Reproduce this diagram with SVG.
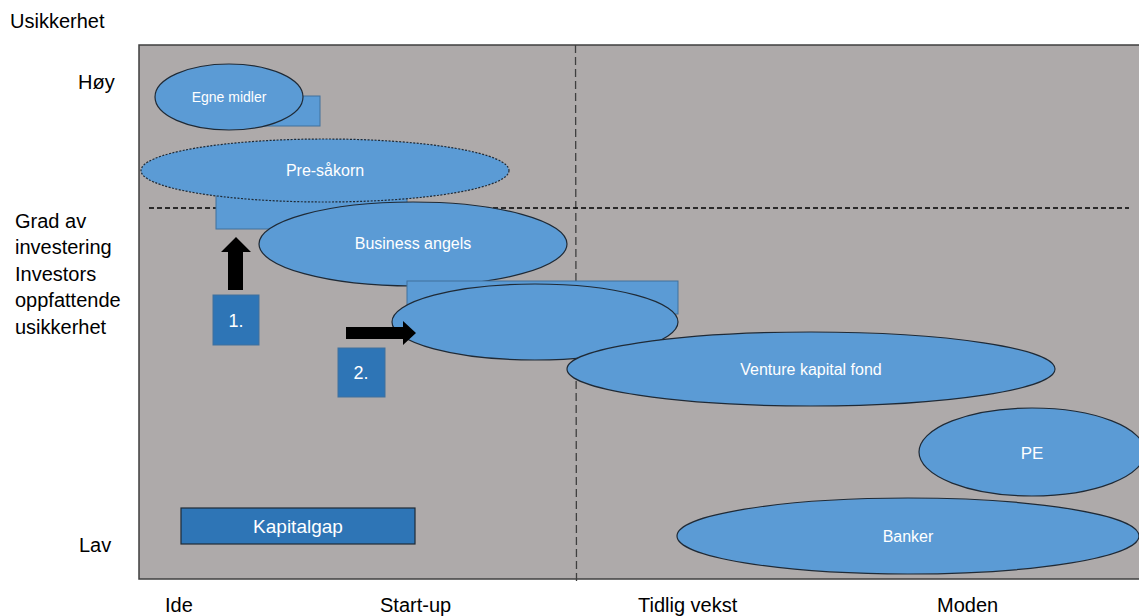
<svg xmlns="http://www.w3.org/2000/svg" width="1139" height="616" viewBox="0 0 1139 616">
<style>
.lbl{font-family:"Liberation Sans",Arial,sans-serif;font-size:20px;fill:#000}
.in{font-family:"Liberation Sans",Arial,sans-serif;fill:#fff;text-anchor:middle;dominant-baseline:central}
.ell{fill:#5b9bd5;stroke:#1f2a36;stroke-width:1.2}
.tb{fill:#5b9bd5;stroke:#41719c;stroke-width:1}
.num{fill:#2e75b6;stroke:#41719c;stroke-width:1}
</style>
<rect width="1139" height="616" fill="#fff"/>
<g id="plot">
<rect x="139" y="45" width="1010" height="534" fill="#aeaaaa" stroke="#3f3f3f" stroke-width="1.5"/>
</g>
<g id="guides">
<line x1="575.5" y1="45" x2="576.5" y2="582" stroke="#3f3f3f" stroke-width="1.3" stroke-dasharray="8,4"/>
<line x1="149" y1="208" x2="1129" y2="208" stroke="#000" stroke-width="1.3" stroke-dasharray="5,3"/>
</g>
<g id="egne-midler">
<rect class="tb" x="200" y="96" width="120" height="30"/>
<ellipse class="ell" cx="229" cy="97" rx="74" ry="33"/>
<text class="in" x="229" y="97" font-size="14">Egne midler</text>
</g>
<g id="pre-sakorn">
<rect class="tb" x="216" y="195" width="191" height="34"/>
<ellipse class="ell" cx="325" cy="170.5" rx="184" ry="31.5" stroke-dasharray="2,1.5"/>
<text class="in" x="325" y="170" font-size="16">Pre-såkorn</text>
</g>
<g id="business-angels">
<ellipse class="ell" cx="413" cy="244" rx="154" ry="42"/>
<text class="in" x="413" y="243" font-size="16">Business  angels</text>
</g>
<g id="middle">
<rect class="tb" x="407" y="281" width="271" height="33"/>
<ellipse class="ell" cx="535" cy="322" rx="143" ry="38"/>
</g>
<g id="venture">
<ellipse class="ell" cx="811" cy="369" rx="244" ry="37"/>
<text class="in" x="811" y="369" font-size="16">Venture  kapital fond</text>
</g>
<g id="pe">
<ellipse class="ell" cx="1032" cy="452" rx="113" ry="44"/>
<text class="in" x="1032" y="453" font-size="17">PE</text>
</g>
<g id="banker">
<ellipse class="ell" cx="908" cy="536" rx="231" ry="38"/>
<text class="in" x="908" y="536" font-size="16">Banker</text>
</g>
<g id="kapitalgap">
<rect x="181" y="508" width="234" height="36" fill="#2e75b6" stroke="#1f2a36" stroke-width="1.2"/>
<text class="in" x="298" y="526" font-size="19">Kapitalgap</text>
</g>
<g id="box1">
<rect class="num" x="213" y="295" width="46" height="50"/>
<text class="in" x="236" y="321" font-size="18">1.</text>
</g>
<g id="box2">
<rect class="num" x="338" y="348" width="47" height="49"/>
<text class="in" x="361" y="373" font-size="18">2.</text>
</g>
<g id="connectors">
<polygon points="228,290 243,290 243,252 251,252 236,237 221,252 228,252" fill="#000"/>
<polygon points="346,327 403,327 403,321 416,333 403,345 403,339 346,339" fill="#000"/>
</g>
<g id="labels">
<text class="lbl" x="10" y="28" font-size="19">Usikkerhet</text>
<text class="lbl" x="78" y="89" font-size="19">Høy</text>
<text class="lbl" x="15" y="228">Grad av</text>
<text class="lbl" x="15" y="254">investering</text>
<text class="lbl" x="15" y="281">Investors</text>
<text class="lbl" x="15" y="307">oppfattende</text>
<text class="lbl" x="15" y="334">usikkerhet</text>
<text class="lbl" x="79" y="552" font-size="19">Lav</text>
<text class="lbl" x="165" y="612">Ide</text>
<text class="lbl" x="380" y="612">Start-up</text>
<text class="lbl" x="638" y="612">Tidlig vekst</text>
<text class="lbl" x="937" y="612">Moden</text>
</g>
</svg>
